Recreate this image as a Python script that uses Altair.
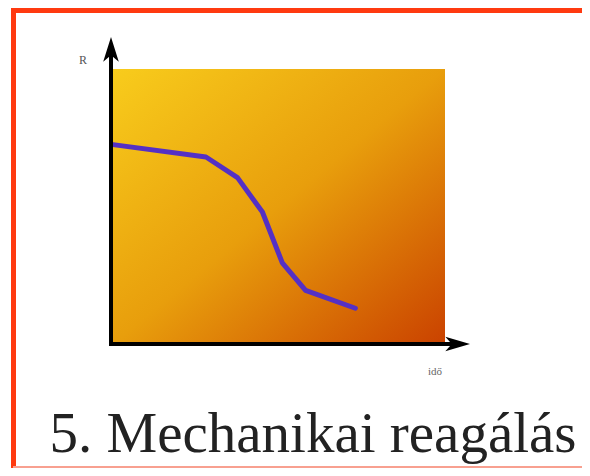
import altair as alt
import pandas as pd

# Curve (R over time), data units on a 0..10 frame
time_vals = [0, 2.8, 3.75, 4.5, 5.1, 5.8, 7.3]
r_vals = [7.25, 6.8, 6.05, 4.8, 2.95, 1.95, 1.3]

y_label = ["R"]
x_label = ["idő"]
caption = ["5. Mechanikai reagálás"]

frame_x = [0]
frame_x2 = [10]
frame_y = [0]
frame_y2 = [10]

W, H = 574, 460
xs = alt.Scale(domain=[0, 10], range=[105, 437])
ys = alt.Scale(domain=[0, 10], range=[336, 61])

line_df = pd.DataFrame({"t": time_vals, "r": r_vals})
frame_df = pd.DataFrame({"x": frame_x, "x2": frame_x2, "y": frame_y, "y2": frame_y2})
one = pd.DataFrame({"a": [0]})

grad = alt.Gradient(
    gradient="linear", x1=0, y1=0, x2=1, y2=1,
    stops=[
        alt.GradientStop(offset=0, color="#F8CC1C"),
        alt.GradientStop(offset=0.5, color="#E89E0C"),
        alt.GradientStop(offset=1, color="#CA4200"),
    ],
)

bg = alt.Chart(frame_df).mark_rect(color=grad).encode(
    x=alt.X("x:Q", scale=xs, axis=None),
    x2="x2:Q",
    y=alt.Y("y:Q", scale=ys, axis=None),
    y2="y2:Q",
)

curve = alt.Chart(line_df).mark_line(color="#5530C4", strokeWidth=5, strokeCap="round", strokeJoin="round").encode(
    x=alt.X("t:Q", scale=xs, axis=None),
    y=alt.Y("r:Q", scale=ys, axis=None),
)

# Axis arrows (decoration)
yaxis = alt.Chart(one).mark_rule(color="#000000", strokeWidth=4).encode(
    x=alt.value(103), y=alt.value(338), y2=alt.value(40)
)
xaxis = alt.Chart(one).mark_rule(color="#000000", strokeWidth=4).encode(
    y=alt.value(336), x=alt.value(101), x2=alt.value(452)
)
up_head = alt.Chart(one).mark_point(
    shape="M0,-1L0.6,0.9L0,0.4L-0.6,0.9Z", filled=True, color="#000000", opacity=1, size=676
).encode(x=alt.value(103), y=alt.value(42))
right_head = alt.Chart(one).mark_point(
    shape="M1,0L-0.9,0.55L-0.4,0L-0.9,-0.55Z", filled=True, color="#000000", opacity=1, size=676
).encode(x=alt.value(449), y=alt.value(336))

rlab = alt.Chart(pd.DataFrame({"t": y_label})).mark_text(
    font="Liberation Serif", fontSize=12, color="#555555", align="center", baseline="middle"
).encode(text="t:N", x=alt.value(75), y=alt.value(52))
xlab = alt.Chart(pd.DataFrame({"t": x_label})).mark_text(
    font="Liberation Serif", fontSize=11, color="#666666", align="center", baseline="middle"
).encode(text="t:N", x=alt.value(427), y=alt.value(364))
cap = alt.Chart(pd.DataFrame({"t": caption})).mark_text(
    font="Liberation Serif", fontSize=57, color="#222222", align="center", baseline="alphabetic"
).encode(text="t:N", x=alt.value(305), y=alt.value(444))

# Frame border (decoration)
top_b = alt.Chart(one).mark_rule(color="#FF3A10", strokeWidth=6).encode(
    y=alt.value(2), x=alt.value(3), x2=alt.value(W)
)
left_b = alt.Chart(one).mark_rule(color="#FF3A10", strokeWidth=5).encode(
    x=alt.value(5.5), y=alt.value(0), y2=alt.value(H)
)
bot_b = alt.Chart(one).mark_rule(color="#F8A090", strokeWidth=2).encode(
    y=alt.value(459), x=alt.value(5), x2=alt.value(W)
)

chart = alt.layer(
    bg, curve, yaxis, xaxis, up_head, right_head, rlab, xlab, cap, top_b, left_b, bot_b
).properties(
    width=W, height=H, padding=0, autosize=alt.AutoSizeParams(type="none")
).configure_view(strokeWidth=0)

chart.save("out.html", embed_options={"renderer": "svg", "actions": False})
